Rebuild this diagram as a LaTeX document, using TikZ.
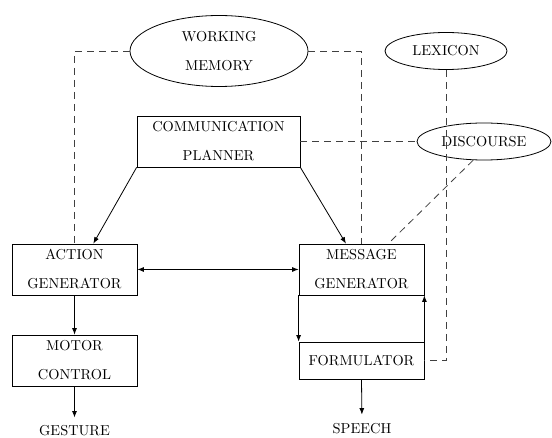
\documentclass[tikz,border=0pt]{standalone}
\usepackage{fontspec}
\usetikzlibrary{shapes.geometric,arrows.meta}
% labels use the 10pt design of Latin Modern, enlarged
\newfontfamily\labelfont{lmroman10-regular}[Extension=.otf]
\begin{document}
\begin{tikzpicture}[x=1pt,y=-1pt,
  every node/.style={font=\labelfont\fontsize{14.4}{29}\selectfont, align=center, inner sep=0pt},
  box/.style={draw, line width=0.8pt, minimum width=125pt, minimum height=51pt},
  store/.style={draw, ellipse, line width=0.8pt},
  link/.style={line width=0.8pt, -{Latex[length=6.5pt,width=5pt]}},
  both/.style={line width=0.8pt, {Latex[length=6.5pt,width=5pt]}-{Latex[length=6.5pt,width=5pt]}},
  access/.style={line width=0.8pt, dash pattern=on 7pt off 5pt, draw=black!75},
  tooutput/.style={link, shorten >=8pt}]
  \useasboundingbox (0,0) rectangle (552,438);

  % memory stores
  \node[store, minimum width=178pt, minimum height=71pt] (wm) at (219,51) {WORKING\\MEMORY};
  \node[store, minimum width=122pt, minimum height=37pt] (lex) at (446,51) {LEXICON};
  \node[store, minimum width=134pt, minimum height=37pt] (disc) at (484,141.5) {DISCOURSE};

  % processing modules
  \node[box, minimum width=163pt] (cp) at (218.5,141.5) {COMMUNICATION\\PLANNER};
  \node[box] (ag) at (74.5,269.5) {ACTION\\GENERATOR};
  \node[box] (mc) at (74.5,360.5) {MOTOR\\CONTROL};
  \node[box] (mg) at (361.5,269.5) {MESSAGE\\GENERATOR};
  \node[box, minimum height=37pt] (fm) at (361.5,360.5) {FORMULATOR};

  % outputs
  \node (ges) at (74.5,431) {GESTURE};
  \node (sp) at (362,429) {SPEECH};

  % access to stores
  \draw[access] (wm.west) -| (ag.north);
  \draw[access] (wm.east) -| (mg.north);
  \draw[access] (cp.east) -- (disc.west);
  \draw[access] (disc.240) -- (mg.44);
  \draw[access] (lex.south) |- (fm.east);

  % control flow
  \draw[link] (cp.south west) -- (ag.54);
  \draw[link] (cp.south east) -- (mg.121);
  \draw[both] (ag.east) -- (mg.west);
  \draw[link] (ag.south) -- (mc.north);
  \draw[tooutput] (mc.south) -- (ges.north);
  \draw[link] (mg.south west) -- (fm.north west);
  \draw[link] (fm.north east) -- (mg.south east);
  \draw[link, shorten >=9pt] (fm.south) -- (sp.north);
\end{tikzpicture}
\end{document}
